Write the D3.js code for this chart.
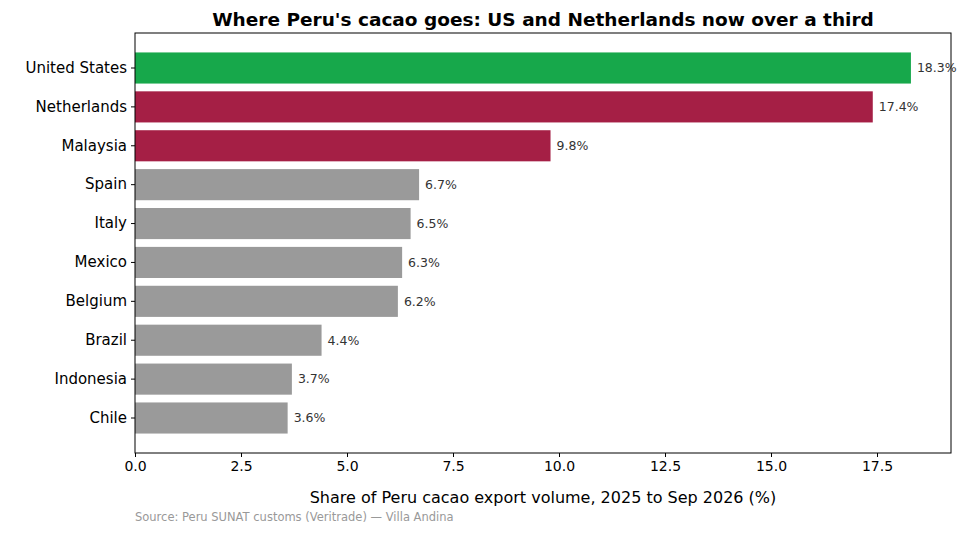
<!DOCTYPE html>
<html><head><meta charset="utf-8">
<script src="https://cdn.jsdelivr.net/npm/d3@7"></script>
<style>body{margin:0;background:#fff;font-family:"DejaVu Sans",sans-serif}</style>
</head><body>
<svg width="973" height="534"></svg>
<script>
'use strict';
// data
const countries = ["United States","Netherlands","Malaysia","Spain","Italy","Mexico","Belgium","Brazil","Indonesia","Chile"]
const shares = [18.3,17.4,9.8,6.7,6.5,6.3,6.2,4.4,3.7,3.6]
const colors = ["#17a84b","#a51f45","#a51f45","#9a9a9a","#9a9a9a","#9a9a9a","#9a9a9a","#9a9a9a","#9a9a9a","#9a9a9a"]
const xTicks = [0,2.5,5,7.5,10,12.5,15,17.5]

const svg = d3.select("svg")
const L = 135, R = 951, T = 33, B = 453

const x = d3.scaleLinear().domain([0, 19.245]).range([L, R])
const y = d3.scaleBand().domain(countries).range([T, B]).paddingInner(0.2).paddingOuter(0.5)

svg.append("g").selectAll("rect").data(countries).join("rect")
	.attr("x", x(0)).attr("y", d => y(d))
	.attr("width", (d, i) => x(shares[i]) - x(0))
	.attr("height", y.bandwidth())
	.attr("fill", (d, i) => colors[i])

svg.append("g").selectAll("text").data(countries).join("text")
	.attr("x", (d, i) => x(shares[i]) + 6)
	.attr("y", d => y(d) + y.bandwidth()/2)
	.attr("dy", "0.35em").attr("font-size", 12.5).attr("fill", "#333")
	.text((d, i) => shares[i].toFixed(1) + "%")

svg.append("g").attr("transform", `translate(0,${B})`)
	.call(d3.axisBottom(x).tickValues(xTicks).tickFormat(d3.format(".1f")).tickSize(4).tickPadding(4))
	.call(g => g.selectAll("text").attr("font-size", 14).attr("fill", "#000").attr("font-family", "DejaVu Sans"))
svg.append("g").attr("transform", `translate(${L},0)`)
	.call(d3.axisLeft(y).tickSize(4).tickPadding(4))
	.call(g => g.selectAll("text").attr("font-size", 15).attr("fill", "#000").attr("font-family", "DejaVu Sans"))
svg.selectAll(".domain").remove()
svg.append("rect").attr("x", L).attr("y", T).attr("width", R-L).attr("height", B-T)
	.attr("fill", "none").attr("stroke", "#000").attr("stroke-width", 1)

svg.append("text").attr("x", (L+R)/2).attr("y", 26).attr("text-anchor", "middle")
	.attr("font-size", 18.5).attr("font-weight", "bold").text("Where Peru's cacao goes: US and Netherlands now over a third")
svg.append("text").attr("x", (L+R)/2).attr("y", 503).attr("text-anchor", "middle")
	.attr("font-size", 16).text("Share of Peru cacao export volume, 2025 to Sep 2026 (%)")
svg.append("text").attr("x", L).attr("y", 521)
	.attr("font-size", 11.5).attr("fill", "#999").text("Source: Peru SUNAT customs (Veritrade) — Villa Andina")
</script>
</body></html>
